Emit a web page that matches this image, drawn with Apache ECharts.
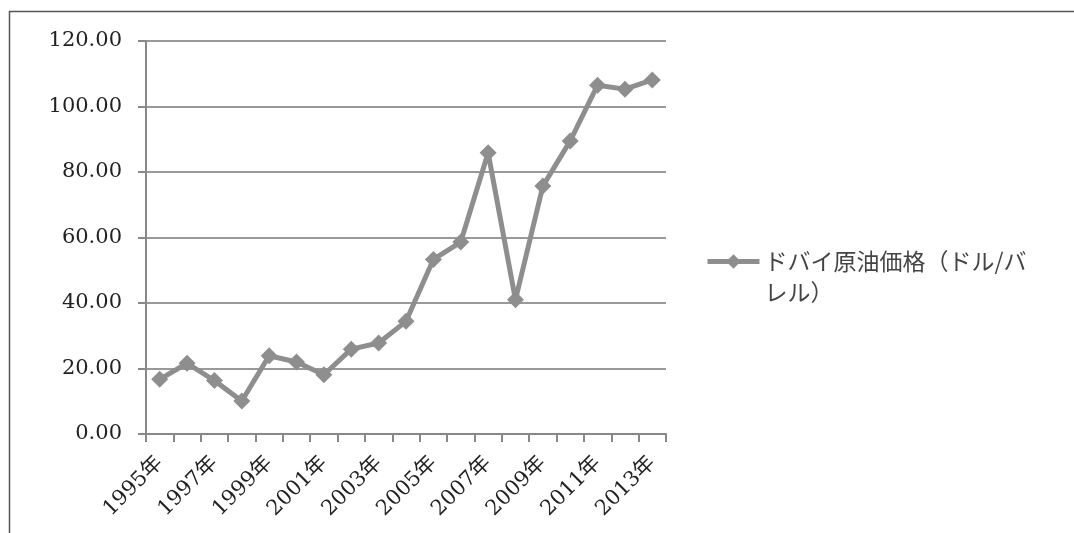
<!DOCTYPE html>
<html>
<head>
<meta charset="utf-8">
<script src="https://cdn.jsdelivr.net/npm/echarts@6/dist/echarts.min.js"></script>
<style>
  html, body { margin: 0; padding: 0; background: #fff; }
  #chart { width: 1074px; height: 533px; }
</style>
</head>
<body>
<div id="chart"></div>
<script>
// Dubai crude oil price, annual average (USD per barrel)
const years = ['1995年','1996年','1997年','1998年','1999年','2000年','2001年','2002年','2003年','2004年',
               '2005年','2006年','2007年','2008年','2009年','2010年','2011年','2012年','2013年'];
const dubaiPrice = [16.7, 21.6, 16.3, 10.1, 23.9, 22.0, 18.1, 25.9, 27.8, 34.4,
                    53.3, 58.6, 85.9, 41.0, 75.7, 89.5, 106.5, 105.3, 108.1];
const seriesName = 'ドバイ原油価格（ドル/バレル）';
// legend text wraps onto two lines; a leading blank line keeps the first line level with the icon
const legendLines = ['', 'ドバイ原油価格（ドル/バ', 'レル）'];

const grey = '#8e8e8e';
const serif = '"DejaVu Serif", "Noto Sans CJK JP", serif';

const chart = echarts.init(document.getElementById('chart'), null, { renderer: 'canvas' });
chart.setOption({
  animation: false,
  backgroundColor: '#fff',
  grid: { left: 146, top: 41, right: 408, bottom: 99, containLabel: false },
  legend: {
    left: 700, top: 210,
    itemWidth: 52, itemHeight: 18, itemGap: 0,
    formatter: () => legendLines.join('\n'),
    lineStyle: { color: grey, width: 5 },
    itemStyle: { color: grey },
    textStyle: {
      fontFamily: '"Noto Sans CJK JP", sans-serif',
      fontSize: 23, color: '#444', lineHeight: 31
    },
    data: [seriesName]
  },
  xAxis: {
    type: 'category',
    data: years,
    boundaryGap: true,
    axisLine: { lineStyle: { color: '#888', width: 2 } },
    axisTick: { show: true, interval: 0, length: 8, lineStyle: { color: '#888', width: 2 } },
    axisLabel: {
      interval: 1, rotate: 45, margin: 26,
      fontFamily: serif, fontSize: 21, color: '#222'
    },
    splitLine: { show: false }
  },
  yAxis: {
    type: 'value',
    min: 0, max: 120, interval: 20,
    axisLine: { show: true, lineStyle: { color: '#888', width: 2 } },
    axisTick: { show: true, length: 8, lineStyle: { color: '#888', width: 2 } },
    axisLabel: {
      margin: 24, fontFamily: serif, fontSize: 21, color: '#222',
      formatter: v => v.toFixed(2)
    },
    splitLine: { lineStyle: { color: '#999', width: 2 } }
  },
  series: [{
    name: seriesName,
    type: 'line',
    data: dubaiPrice,
    symbol: 'diamond',
    symbolSize: 17,
    lineStyle: { color: grey, width: 5 },
    itemStyle: { color: grey },
    z: 3
  }],
  graphic: [{
    type: 'polyline',
    shape: { points: [[9.5, 533], [9.5, 11.5], [1074, 11.5]] },
    style: { stroke: '#555', lineWidth: 1.5, fill: null },
    silent: true
  }]
});
</script>
</body>
</html>
